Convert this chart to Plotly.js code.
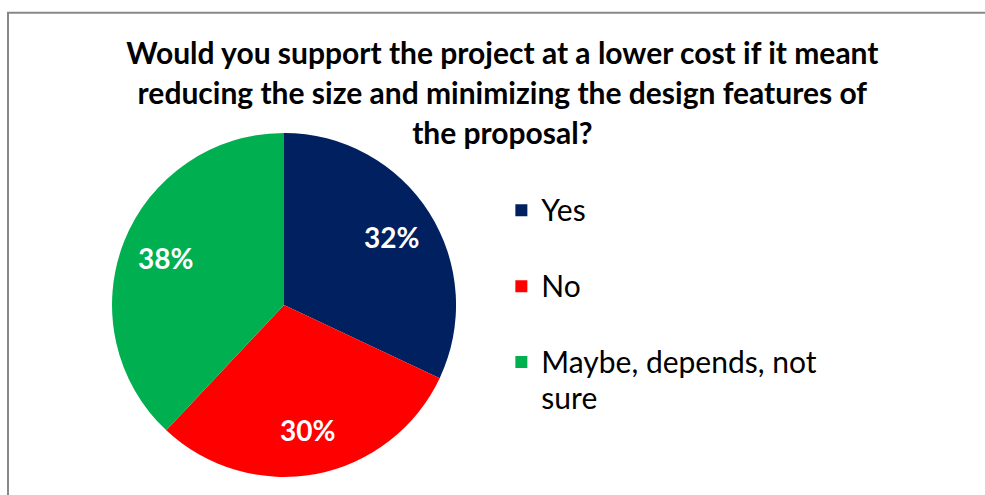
<!DOCTYPE html>
<html>
<head>
<meta charset="utf-8">
<script src="https://cdn.plot.ly/plotly-3.0.1.min.js"></script>
<style>html,body{margin:0;padding:0;background:#fff;}#chart{width:985px;height:495px;}</style>
</head>
<body>
<div id="chart"></div>
<script>
const categories = ["Yes", "No", "Maybe, depends, not sure"];
const shares = [32, 30, 38];
const sliceColors = ["#002060", "#FF0000", "#00B050"];
const titleLines = [
  "Would you support the project at a lower cost if it meant",
  "reducing the size and minimizing the design features of",
  "the proposal?"
];

// legend labels: pad each entry to two lines so entries are spaced like the original
const legendLabels = categories.map(function (c) {
  let t;
  if (c.length > 20) {
    const cut = c.lastIndexOf(" ");
    t = [c.slice(0, cut), c.slice(cut + 1)];
  } else {
    t = [c, "\u00a0"];
  }
  return t.map(function (s) { return '<span style="font-size:30px">' + s + '</span>'; }).join("<br>");
});

const FONT = "Lato, 'Open Sans', sans-serif";

// pie geometry (domain) and percentage labels placed at each slice's mid-angle
const dom = { x: [0.1137, 0.463], y: [0.0365, 0.7315] };
const W = 985, H = 495;
const cx = (dom.x[0] + dom.x[1]) / 2 * W;
const cy = (1 - (dom.y[0] + dom.y[1]) / 2) * H;
const R = Math.min((dom.x[1] - dom.x[0]) * W, (dom.y[1] - dom.y[0]) * H) / 2;
const total = shares.reduce(function (a, b) { return a + b; }, 0);
let acc = 0;
const labelAnns = shares.map(function (v) {
  const mid = (acc + v / 2) / total * 2 * Math.PI;
  acc += v;
  const r = 0.74 * R;
  const px = cx + r * Math.sin(mid);
  const py = cy - r * Math.cos(mid);
  return {
    xref: "paper", yref: "paper",
    x: px / W, y: 1 - py / H,
    xanchor: "center", yanchor: "middle",
    showarrow: false,
    text: Math.round(v / total * 100) + "%",
    font: { family: FONT, size: 28, color: "#ffffff", weight: "bold" }
  };
});

const trace = {
  type: "pie",
  labels: legendLabels,
  values: shares,
  sort: false,
  direction: "clockwise",
  rotation: 0,
  marker: { colors: sliceColors, line: { width: 0 } },
  textinfo: "none",
  domain: dom,
  hoverinfo: "label+percent"
};

const layout = {
  width: W,
  height: H,
  margin: { l: 0, r: 0, t: 0, b: 0 },
  paper_bgcolor: "#ffffff",
  plot_bgcolor: "#ffffff",
  title: {
    text: titleLines.map(function (t) { return '<span style="font-size:30px">' + t + '</span>'; }).join("<br>"),
    font: { family: FONT, size: 31, color: "#000000", weight: "bold" },
    x: 0.51,
    xanchor: "center",
    y: 0.871,
    yanchor: "top"
  },
  showlegend: true,
  legend: {
    x: 0.509,
    xanchor: "left",
    y: 0.625,
    yanchor: "top",
    valign: "top",
    font: { family: FONT, size: 28, color: "#000000" },
    bgcolor: "rgba(0,0,0,0)",
    traceorder: "normal"
  },
  annotations: labelAnns,
  shapes: [{
    type: "rect",
    xref: "paper", yref: "paper",
    x0: 8 / W, x1: 1.2,
    y0: -0.2, y1: 1 - 12.7 / H,
    line: { color: "#888888", width: 2 },
    fillcolor: "rgba(0,0,0,0)",
    layer: "above"
  }]
};

Plotly.newPlot("chart", [trace], layout, { displayModeBar: false, staticPlot: true });
</script>
</body>
</html>
